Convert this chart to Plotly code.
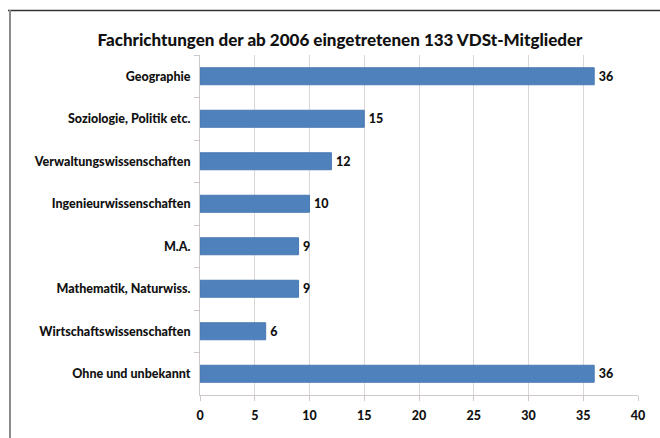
import plotly.graph_objects as go

# Fachrichtungen und Anzahl der Mitglieder
categories = [
    "Geographie",
    "Soziologie, Politik etc.",
    "Verwaltungswissenschaften",
    "Ingenieurwissenschaften",
    "M.A.",
    "Mathematik, Naturwiss.",
    "Wirtschaftswissenschaften",
    "Ohne und unbekannt",
]
counts = [36, 15, 12, 10, 9, 9, 6, 36]
x_ticks = [0, 5, 10, 15, 20, 25, 30, 35, 40]

W, H = 660, 438
ml, mr, mt, mb = 200, 22, 55, 43
pw, ph = W - ml - mr, H - mt - mb

FONT = "Lato"
WEIGHT = 900

fig = go.Figure(
    go.Bar(
        x=counts,
        y=categories,
        orientation="h",
        marker=dict(color="#4f81bd", line=dict(color="#4a7ab3", width=1)),
        width=0.4,
        text=["\u2009" + str(c) for c in counts],
        textposition="outside",
        cliponaxis=False,
        textfont=dict(family=FONT, size=12.5, color="#111111", weight=WEIGHT),
    )
)

# Rahmen oben und links, in Papierkoordinaten relativ zur Zeichenfläche
def px_x(px):
    return (px - ml) / pw

def px_y(py):
    return (H - mb - py) / ph

fig.add_shape(type="line", xref="paper", yref="paper",
              x0=px_x(8), x1=px_x(662), y0=px_y(10.5), y1=px_y(10.5),
              line=dict(color="#333333", width=1.5))
fig.add_shape(type="line", xref="paper", yref="paper",
              x0=px_x(10), x1=px_x(10), y0=px_y(10), y1=px_y(440),
              line=dict(color="#8a8a8a", width=2))

fig.update_layout(
    width=W,
    height=H,
    margin=dict(l=ml, r=mr, t=mt, b=mb),
    paper_bgcolor="white",
    plot_bgcolor="white",
    showlegend=False,
    title=dict(
        text="Fachrichtungen der ab 2006 eingetretenen 133 VDSt-Mitglieder",
        x=(340 / W),
        xanchor="center",
        y=1 - 40 / H,
        yanchor="middle",
        font=dict(family=FONT, size=17, color="#111111", weight=WEIGHT),
    ),
    xaxis=dict(
        range=[0, 40],
        tickvals=x_ticks,
        ticktext=[str(v) for v in x_ticks],
        showgrid=True,
        gridcolor="#dcd6d6",
        gridwidth=1,
        zeroline=False,
        showline=True,
        linecolor="#cfc8c8",
        linewidth=1,
        ticks="outside",
        ticklen=5,
        tickcolor="#cfc8c8",
        ticklabelstandoff=4,
        tickfont=dict(family=FONT, size=12.5, color="#111111", weight=WEIGHT),
        fixedrange=True,
    ),
    yaxis=dict(
        autorange="reversed",
        showgrid=False,
        showline=True,
        linecolor="#cfc8c8",
        linewidth=1,
        ticks="outside",
        tickson="boundaries",
        ticklen=5,
        tickcolor="#cfc8c8",
        ticklabelstandoff=6,
        tickfont=dict(family=FONT, size=12.5, color="#111111", weight=WEIGHT),
        fixedrange=True,
    ),
)

fig.write_html("out.html")
